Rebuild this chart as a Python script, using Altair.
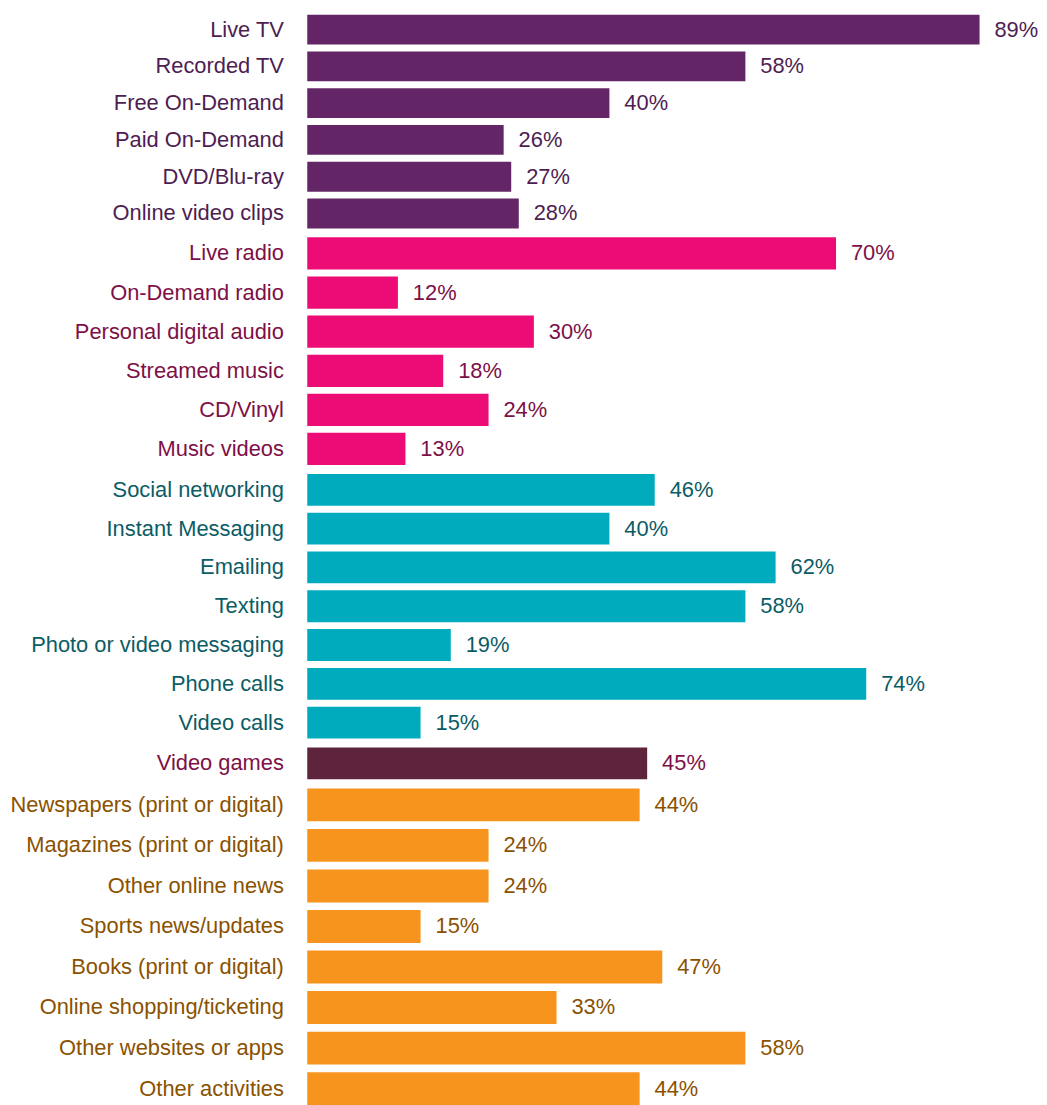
import altair as alt
import pandas as pd

tv_labels = ["Live TV", "Recorded TV", "Free On-Demand", "Paid On-Demand", "DVD/Blu-ray", "Online video clips"]
tv_values = [89, 58, 40, 26, 27, 28]

audio_labels = ["Live radio", "On-Demand radio", "Personal digital audio", "Streamed music", "CD/Vinyl", "Music videos"]
audio_values = [70, 12, 30, 18, 24, 13]

comm_labels = ["Social networking", "Instant Messaging", "Emailing", "Texting",
               "Photo or video messaging", "Phone calls", "Video calls"]
comm_values = [46, 40, 62, 58, 19, 74, 15]

games_labels = ["Video games"]
games_values = [45]

read_labels = ["Newspapers (print or digital)", "Magazines (print or digital)", "Other online news",
               "Sports news/updates", "Books (print or digital)", "Online shopping/ticketing",
               "Other websites or apps", "Other activities"]
read_values = [44, 24, 24, 15, 47, 33, 58, 44]

FONT = "Liberation Sans"
FSIZE = 22
XDOMAIN = [0, 92]
PLOT_W = 699


def panel(labels, values, bar_color, text_color, height, pad_inner):
    df = pd.DataFrame({"activity": labels, "value": values,
                       "label": [f"{v}%" for v in values]})
    y = alt.Y("activity:N", sort=labels, title=None,
              scale=alt.Scale(paddingInner=pad_inner, paddingOuter=pad_inner / 2),
              axis=alt.Axis(labelFont=FONT, labelFontSize=FSIZE, labelColor=text_color,
                            domain=False, ticks=False, tickSize=0, labelPadding=24,
                            labelLimit=400, minExtent=301, maxExtent=301, grid=False))
    x = alt.X("value:Q", scale=alt.Scale(domain=XDOMAIN, nice=False, zero=True), axis=None)
    bars = alt.Chart(df).mark_bar(color=bar_color).encode(y=y, x=x)
    text = alt.Chart(df).mark_text(align="left", baseline="middle", dx=15,
                                   font=FONT, fontSize=FSIZE, color=text_color).encode(
        y=alt.Y("activity:N", sort=labels), x=alt.X("value:Q"), text="label:N")
    return alt.layer(bars, text).properties(width=PLOT_W, height=height)


chart = alt.vconcat(
    panel(tv_labels, tv_values, "#632565", "#4E1D52", 222, 0.19),
    panel(audio_labels, audio_values, "#ED0B75", "#7D1046", 236, 0.175),
    panel(comm_labels, comm_values, "#00ABBE", "#0B5C65", 273, 0.18),
    panel(games_labels, games_values, "#5E243C", "#7D1046", 39, 0.18),
    panel(read_labels, read_values, "#F7941E", "#8A5200", 326, 0.19),
    spacing=2,
).properties(
    padding={"top": 0, "left": 0, "right": 0, "bottom": 0}
).configure_view(stroke=None)

chart.save("out.html", embed_options={"renderer": "svg", "actions": False})
